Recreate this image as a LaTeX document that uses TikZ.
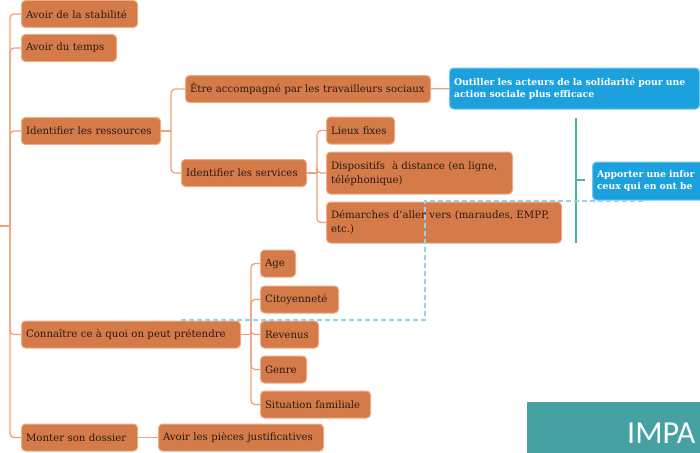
\documentclass[tikz,border=0pt]{standalone}
\usepackage{fontspec}
\setmainfont{DejaVu Serif}
\newfontfamily\headfont{Carlito}
\usepackage{tikz}

\definecolor{nodefill}{RGB}{213,123,74}
\definecolor{nodeline}{RGB}{238,172,132}
\definecolor{nodetext}{RGB}{45,26,20}
\definecolor{linkcol}{RGB}{236,163,122}
\definecolor{goalfill}{RGB}{28,160,222}
\definecolor{goalline}{RGB}{120,200,240}
\definecolor{bracecol}{RGB}{78,178,162}
\definecolor{dashcol}{RGB}{150,208,238}
\definecolor{impactfill}{RGB}{69,161,162}

\begin{document}
\begin{tikzpicture}[x = 1pt, y = -1pt,
	box/.style = {draw = nodeline, line width = 1pt, fill = nodefill, rounded corners = 4pt, text = nodetext, align = left, text width = #1, inner xsep = 4.5pt, inner ysep = 3pt, minimum height = 27pt, font = \fontsize{10.2}{14}\selectfont},
	goal/.style = {box = #1, draw = goalline, fill = goalfill, text = white, font = \fontsize{9.3}{12.5}\selectfont\bfseries},
	link/.style = {draw = linkcol, line width = 1.3pt, rounded corners = 4pt},
	brace/.style = {draw = bracecol, line width = 1.6pt},
	dashline/.style = {draw = dashcol, line width = 1.3pt, dash pattern = on 5pt off 3pt}]
	\clip (0, 0) rectangle (700, 452);
	\node (stab) at (21, 14) [box = 107pt, anchor = west] {Avoir de la stabilité};
	\node (temps) at (21, 48) [box = 86pt, anchor = west] {Avoir du temps};
	\node (ress) at (21, 131) [box = 130pt, anchor = west] {Identifier les ressources};
	\node (accomp) at (185, 89) [box = 236pt, anchor = west] {Être accompagné par les travailleurs sociaux};
	\node (serv) at (181, 173) [box = 116pt, anchor = west] {Identifier les services};
	\node (lieux) at (326, 130.5) [box = 59pt, anchor = west] {Lieux fixes};
	\node (dispo) at (326, 173) [box = 177pt, anchor = west, minimum height = 42pt] {Dispositifs\ \ à distance (en ligne,\\téléphonique)};
	\node (demar) at (326, 222.5) [box = 226pt, anchor = west, minimum height = 41pt] {Démarches d’aller vers (maraudes, EMPP,\\etc.)};
	\node (outil) at (449, 88.5) [goal = 241pt, anchor = west, minimum height = 41pt] {Outiller les acteurs de la solidarité pour une\\action sociale plus efficace};
	\node (apport) at (592, 181) [goal = 190pt, anchor = west, minimum height = 38pt] {Apporter une infor\\ceux qui en ont be};
	\node (conn) at (21, 334.5) [box = 210pt, anchor = west] {Connaître ce à quoi on peut prétendre};
	\node (age) at (260, 263.5) [box = 26pt, anchor = west] {Age};
	\node (citoy) at (260, 299.5) [box = 69pt, anchor = west] {Citoyenneté};
	\node (rev) at (260, 334.5) [box = 49pt, anchor = west] {Revenus};
	\node (genre) at (260, 369.5) [box = 37pt, anchor = west] {Genre};
	\node (situ) at (260, 404.5) [box = 101pt, anchor = west] {Situation familiale};
	\node (dossier) at (21, 437.5) [box = 107pt, anchor = west] {Monter son dossier};
	\node (pieces) at (158, 437.5) [box = 156pt, anchor = west] {Avoir les pièces justificatives};
	\coordinate (root) at (0, 226);
	\coordinate (trunk) at (10, 226);
	\draw[link] (root) -- (trunk);
	\foreach \n in {stab, temps, ress, conn, dossier}
		\draw[link] (trunk) |- (\n.west);
	\draw[link] (ress.east) -- ++(10, 0) coordinate (ressfork);
	\foreach \n in {accomp, serv}
		\draw[link] (ressfork) |- (\n.west);
	\draw[link] (serv.east) -- ++(10, 0) coordinate (servfork);
	\foreach \n in {lieux, dispo, demar}
		\draw[link] (servfork) |- (\n.west);
	\draw[link] (conn.east) -- ++(10, 0) coordinate (connfork);
	\foreach \n in {age, citoy, rev, genre, situ}
		\draw[link] (connfork) |- (\n.west);
	\draw[link] (dossier) -- (pieces);
	\draw[link] (accomp) -- (outil);
	\coordinate (bracetop) at (576, 118);
	\coordinate (bracebot) at (576, 243);
	\draw[brace] (bracetop) -- (bracebot) (576, 180) -- ++(9, 0);
	\draw[dashline] (181, 320) -- (425, 320) -- (425, 201) -- (643, 201);
	\node (impact) at (527, 402) [anchor = north west, fill = impactfill, minimum width = 200pt, minimum height = 70pt, inner sep = 0pt] {};
	\node (impacttext) at (627, 443) [anchor = base west, inner sep = 0pt, text = white, font = \headfont\fontsize{32}{32}\selectfont] {IMPA};
\end{tikzpicture}
\end{document}
